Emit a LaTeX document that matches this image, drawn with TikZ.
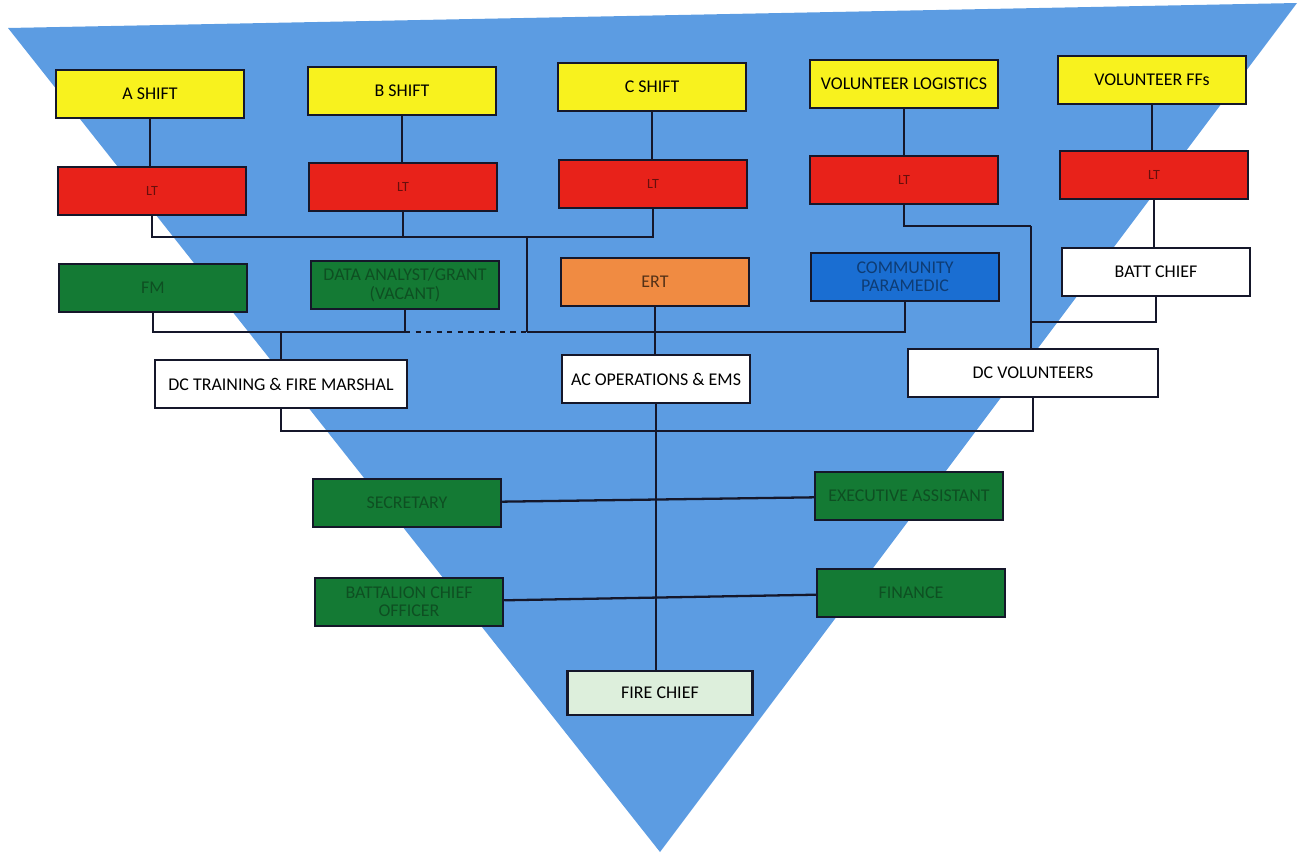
\documentclass[tikz,border=0pt]{standalone}
\usepackage{fontspec}
\setmainfont{Carlito}
\usetikzlibrary{positioning,calc}
\definecolor{pyramid}{HTML}{5C9CE2}
\definecolor{shiftyellow}{HTML}{F8F21E}
\definecolor{ltred}{HTML}{E8221A}
\definecolor{staffgreen}{HTML}{147A34}
\definecolor{staffink}{HTML}{0E4F22}
\definecolor{ertorange}{HTML}{F08B42}
\definecolor{cpblue}{HTML}{1A6ED2}
\definecolor{chiefgreen}{HTML}{DDEFDC}
\definecolor{boxline}{HTML}{15172A}
\tikzset{
  box/.style={draw=boxline,line width=1.4pt,minimum width=37.6mm,minimum height=9.6mm,
    inner sep=1pt,align=center,font=\fontsize{10.2}{10.5}\selectfont},
  shiftbox/.style={box,fill=shiftyellow},
  ltbox/.style={box,fill=ltred,text=ltred!45!black,font=\fontsize{8}{9}\selectfont},
  staffbox/.style={box,fill=staffgreen,text=staffink},
  deputy/.style={box,fill=white,minimum width=50.4mm},
  link/.style={draw=boxline,line width=1.3pt}
}
\begin{document}
\begin{tikzpicture}[x=0.2mm,y=-0.2mm]
\useasboundingbox (0,0) rectangle (1299,854);
\fill[pyramid] (8,28) -- (1297,3) -- (660,852) -- cycle;
% shifts
\node[shiftbox] (ashift) at (150,94) {A SHIFT};
\node[shiftbox] (bshift) at (402,91) {B SHIFT};
\node[shiftbox] (cshift) at (652,87) {C SHIFT};
\node[shiftbox] (vlog) at (904,84) {VOLUNTEER LOGISTICS};
\node[shiftbox] (vff) at (1152,80) {VOLUNTEER FFs};
% lieutenants
\node[ltbox] (lta) at (152,191) {LT};
\node[ltbox] (ltb) at (403,187) {LT};
\node[ltbox] (ltc) at (653,184) {LT};
\node[ltbox] (ltd) at (904,180) {LT};
\node[ltbox] (lte) at (1154,175) {LT};
% third row
\node[staffbox] (fm) at (153,288) {FM};
\node[staffbox] (data) at (405,285) {DATA ANALYST/GRANT\\(VACANT)};
\node[box,fill=ertorange,text=ertorange!35!black] (ert) at (655,282) {ERT};
\node[box,fill=cpblue,text=cpblue!55!black] (cp) at (905,277) {COMMUNITY\\PARAMEDIC};
\node[box,fill=white] (batt) at (1156,272) {BATT CHIEF};
% deputies
\node[deputy] (dct) at (281,384) {DC TRAINING \& FIRE MARSHAL};
\node[box,fill=white] (aco) at (656,379) {AC OPERATIONS \& EMS};
\node[deputy,minimum width=50mm] (dcv) at (1033,373) {DC VOLUNTEERS};
% staff
\node[staffbox] (sec) at (407,503) {SECRETARY};
\node[staffbox] (exa) at (909,496) {EXECUTIVE ASSISTANT};
\node[staffbox] (bco) at (409,602) {BATTALION CHIEF\\OFFICER};
\node[staffbox] (fin) at (911,593) {FINANCE};
\node[box,fill=chiefgreen,minimum width=37mm,minimum height=8.8mm] (fc) at (660,693) {FIRE CHIEF};
% junctions
\coordinate (jtop) at (527,237);
\coordinate (jmid) at (527,332);
\coordinate (jleft) at (405,332);
\coordinate (jright) at (1031,226);
\coordinate (jbatt) at (1031,322);
\coordinate (jlow) at (657,431);
% connectors
\foreach \s/\l in {ashift/lta,bshift/ltb,cshift/ltc,vlog/ltd,vff/lte}
  \draw[link] (\s.south) -- (\s.south |- \l.north);
\draw[link] (lta.south) |- (jtop);
\draw[link] (ltb.south) -- (ltb.south |- jtop);
\draw[link] (ltc.south) |- (jtop);
\draw[link] (jtop) -- (jmid);
\draw[link] (jmid) -| (cp.south);
\draw[link,dashed] (jleft) -- (jmid);
\draw[link] (fm.south) |- (jleft);
\draw[link] (data.south) -- (jleft);
\draw[link] (dct.north) -- (dct.north |- jleft);
\draw[link] (ert.south) -- (ert.south |- aco.north);
\draw[link] (ltd.south) |- (jright);
\draw[link] (jright) -- (jright |- dcv.north);
\draw[link] (lte.south) -- (lte.south |- batt.north);
\draw[link] (batt.south) |- (jbatt);
\draw[link] (dct.south) |- (jlow);
\draw[link] (dcv.south) |- (jlow);
\draw[link] (aco.south) -- (aco.south |- fc.north);
\draw[link] (sec) -- (exa);
\draw[link] (bco) -- (fin);
\end{tikzpicture}
\end{document}
